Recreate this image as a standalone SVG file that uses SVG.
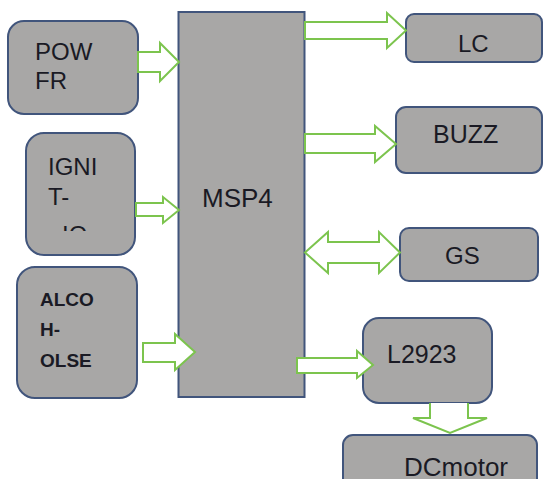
<svg xmlns="http://www.w3.org/2000/svg" width="543" height="479" viewBox="0 0 543 479">
<style>
.box{fill:#a8a7a6;stroke:#41557c;stroke-width:2}
.arr{fill:#ffffff;stroke:#7cc44e;stroke-width:2;stroke-linejoin:miter}
.t{font-family:"Liberation Sans",Arial,sans-serif;font-size:24px;fill:#1a1a24}
.s{font-size:19px;font-weight:bold}
</style>
<defs>
<clipPath id="clipIg"><rect x="26" y="133" width="109" height="98"/></clipPath>
</defs>
<rect width="543" height="479" fill="#ffffff"/>
<g id="powfr"><rect class="box" x="8" y="21" width="130" height="93" rx="16"/><text class="t" x="35" y="60">POW</text><text class="t" x="35" y="89">FR</text></g>
<g id="ignition"><rect class="box" x="26" y="133" width="109" height="122" rx="18"/><text class="t" x="48" y="175">IGNI</text><text class="t" x="48" y="205">T-</text><text class="t" x="62" y="243" clip-path="url(#clipIg)">IO</text></g>
<g id="alcohol"><rect class="box" x="17" y="267" width="120" height="131" rx="18"/><text class="t s" x="40" y="306">ALCO</text><text class="t s" x="40" y="336">H-</text><text class="t s" x="40" y="367">OLSE</text></g>
<g id="msp4"><rect class="box" x="178.5" y="12" width="126" height="385"/><text class="t" x="202" y="207" style="font-size:26px">MSP4</text></g>
<g id="lc"><rect class="box" x="406" y="14" width="136" height="48" rx="8"/><text class="t" x="458" y="52">LC</text></g>
<g id="buzz"><rect class="box" x="396" y="107" width="146" height="66" rx="10"/><text class="t" x="433" y="143" style="font-size:25px">BUZZ</text></g>
<g id="gs"><rect class="box" x="400" y="228" width="138" height="53" rx="9"/><text class="t" x="445" y="264">GS</text></g>
<g id="l2923"><rect class="box" x="363" y="318" width="129" height="85" rx="16"/><text class="t" x="387" y="363" style="font-size:25px">L2923</text></g>
<g id="dcmotor"><rect class="box" x="343" y="435" width="194" height="60" rx="10"/><text class="t" x="404" y="476" style="font-size:26px">DCmotor</text></g>
<g id="connectors">
<polygon class="arr" points="138,52 160,52 160,43 179,62 160,81 160,72 138,72"/>
<polygon class="arr" points="136,203 163,203 163,197 179,210 163,223 163,216 136,216"/>
<polygon class="arr" points="143,343 175,343 175,334 195,352 175,370 175,362 143,362"/>
<polygon class="arr" points="305,22 387,22 387,13 406,30.5 387,48 387,39 305,39"/>
<polygon class="arr" points="305,134 375,134 375,126 396,144 375,162 375,153 305,153"/>
<polygon class="arr" points="305,252.5 328,232 328,242 379,242 379,232 400,252.5 379,273 379,263 328,263 328,273"/>
<polygon class="arr" points="297,358 357,358 357,351 373,365 357,378 357,373 297,373"/>
<polyline class="arr" points="430,403 430,418 413,418 450,433 487,418 468,418 468,403"/>
</g>
</svg>
